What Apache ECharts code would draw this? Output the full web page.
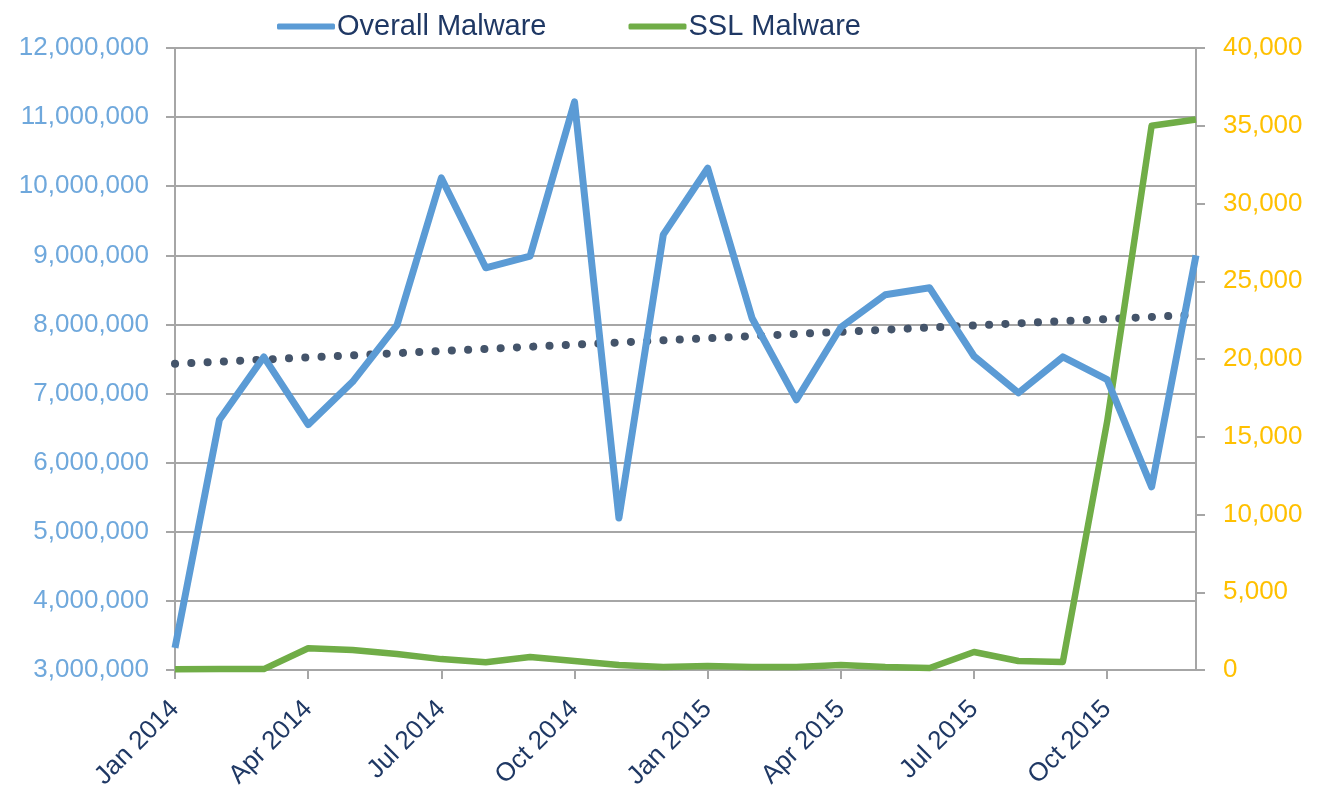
<!DOCTYPE html>
<html>
<head>
<meta charset="utf-8">
<script src="https://cdn.jsdelivr.net/npm/echarts@6/dist/echarts.min.js"></script>
<style>html,body{margin:0;padding:0;background:#fff}#c{width:1329px;height:786px}</style>
</head>
<body>
<div id="c"></div>
<script>
const months = ['Jan 2014','Feb 2014','Mar 2014','Apr 2014','May 2014','Jun 2014','Jul 2014','Aug 2014','Sep 2014','Oct 2014','Nov 2014','Dec 2014',
  'Jan 2015','Feb 2015','Mar 2015','Apr 2015','May 2015','Jun 2015','Jul 2015','Aug 2015','Sep 2015','Oct 2015','Nov 2015','Dec 2015'];
const overallMalware = [3320000,6620000,7530000,6550000,7170000,7990000,10120000,8820000,8990000,11220000,5200000,9300000,
  10260000,8090000,6910000,7960000,8430000,8530000,7540000,7010000,7530000,7200000,5650000,9000000];
const sslMalware = [50,60,60,1400,1290,1030,700,500,830,580,320,190,
  260,200,190,320,190,130,1160,580,520,16000,35000,35400];
// linear trend of Overall Malware, read at its two ends
const trendOverall = [7430000,null,null,null,null,null,null,null,null,null,null,null,
  null,null,null,null,null,null,null,null,null,null,null,8140000];
const leftTicks = {min:3000000, max:12000000, step:1000000};
const rightTicks = {min:0, max:40000, step:5000};

const FONT = '"Liberation Sans", Arial, sans-serif';
const fmt = v => Number(v).toLocaleString('en-US');
const chart = echarts.init(document.getElementById('c'));
chart.setOption({
  animation:false,
  textStyle:{fontFamily:FONT},
  legend:{
    top:7, left:272, itemGap:82, itemWidth:58, itemHeight:6,
    data:['Overall Malware','SSL Malware'],
    textStyle:{color:'#1F3864', fontSize:29, fontFamily:FONT, padding:[0,0,0,-3]},
    icon:'roundRect'
  },
  grid:{left:175, right:133, top:48, bottom:116, containLabel:false, outerBoundsMode:'none'},
  xAxis:{
    type:'category', data:months, boundaryGap:false,
    axisLine:{lineStyle:{color:'#A6A6A6', width:2}},
    axisTick:{show:true, interval:2, length:9, lineStyle:{color:'#A6A6A6', width:2}},
    axisLabel:{interval:2, rotate:45, color:'#1F3864', fontSize:26, margin:35, fontFamily:FONT}
  },
  yAxis:[{
    type:'value', min:leftTicks.min, max:leftTicks.max, interval:leftTicks.step,
    axisLine:{show:true, lineStyle:{color:'#A6A6A6', width:2}},
    axisTick:{show:true, length:9, lineStyle:{color:'#A6A6A6', width:2}},
    splitLine:{lineStyle:{color:'#A6A6A6', width:2}},
    axisLabel:{color:'#6FA8DC', fontSize:26, margin:26, formatter:fmt, fontFamily:FONT}
  },{
    type:'value', min:rightTicks.min, max:rightTicks.max, interval:rightTicks.step, position:'right',
    axisLine:{show:true, lineStyle:{color:'#A6A6A6', width:2}},
    axisTick:{show:true, length:9, lineStyle:{color:'#A6A6A6', width:2}},
    splitLine:{show:false},
    axisLabel:{color:'#FFC000', fontSize:26, margin:27, formatter:fmt, fontFamily:FONT}
  }],
  series:[{
    name:'Trend', type:'line', yAxisIndex:0, data:trendOverall, connectNulls:true,
    symbol:'none', silent:true, z:1,
    lineStyle:{color:'#44546A', width:8, type:[0.1,16.2], cap:'round'}
  },{
    name:'Overall Malware', type:'line', yAxisIndex:0, data:overallMalware,
    symbol:'none', z:3, itemStyle:{color:'#5B9BD5'},
    lineStyle:{color:'#5B9BD5', width:7, join:'round'}
  },{
    name:'SSL Malware', type:'line', yAxisIndex:1, data:sslMalware,
    symbol:'none', z:2, itemStyle:{color:'#70AD47'},
    lineStyle:{color:'#70AD47', width:6.5, join:'round'}
  }]
});
</script>
</body>
</html>
